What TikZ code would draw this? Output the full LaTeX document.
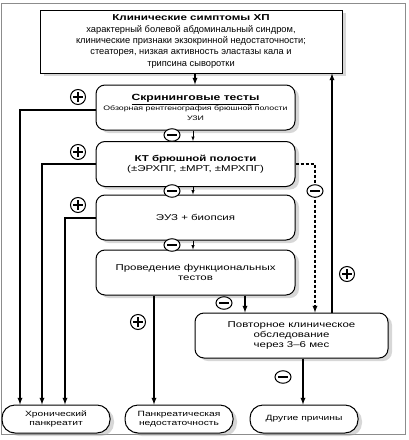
\documentclass[tikz,border=0pt]{standalone}
\usepackage{fontspec}
\setmainfont{Liberation Sans}
\newfontfamily\shir[FakeStretch=1.35,Ligatures=TeX]{Liberation Sans}
\usetikzlibrary{arrows,positioning,shadows}
\usetikzlibrary{shapes.geometric}
\colorlet{ramka}{black!45}
\colorlet{ten}{black!35}

\begin{document}
\begin{tikzpicture}[x=1pt,y=-1pt,>=latex]%
        \useasboundingbox (0,0) rectangle (409,440);%%
        \draw[ramka,line width=.8pt] (1,3) rectangle (405,434);%%
        \tikzset{blok/.style={draw,fill=white,line width=1pt,align=center,inner sep=1pt,
                 drop shadow={shadow xshift=4pt,shadow yshift=-3pt,fill=ten,opacity=.45}},
                 znak/.style={draw,fill=white,line width=1pt,inner sep=0pt},
                 plus/.style={znak,circle,minimum size=15pt,
                   path picture={\draw[line width=1.4pt]
                     (path picture bounding box.center) +(-5pt,0) -- +(5pt,0)
                     (path picture bounding box.center) +(0,-5pt) -- +(0,5pt);}},
                 minus/.style={znak,ellipse,minimum width=16pt,minimum height=12.5pt,
                   path picture={\draw[line width=1.4pt]
                     (path picture bounding box.center) +(-5pt,0) -- +(5pt,0);}},
                 lin/.style={line width=1.3pt,-latex},
                 mal/.style={line width=.5pt,-latex}}
        % top box
        \node[blok,rectangle,minimum width=302pt,minimum height=63pt,
              font=\fontsize{9.3}{11.4}\selectfont] (simp) at (191,41.5)
              {{\shir\fontsize{8.6}{11.4}\selectfont\textbf{Клинические симптомы ХП}}\\
               характерный болевой абдоминальный синдром,\\
               клинические признаки экзокринной недостаточности;\\
               стеаторея, низкая активность эластазы кала и\\ трипсина сыворотки}; %%
        \begin{scope}[rounded corners=9pt]
        \tikzstyle{every node}=[blok,minimum width=199pt,minimum height=45pt,
                   font=\shir\fontsize{8.5}{10}\selectfont] %%
        \node (skr) at (195.5,107.5)
              {{\fontsize{9}{11}\selectfont\textbf{\underline{Скрининговые тесты}}}\\
               {\fontsize{6.5}{8}\selectfont Обзорная рентгенография брюшной полости}\\
               {\fontsize{6.5}{8}\selectfont УЗИ}}; %%
        \node (kt) at (195.5,164)
              {\textbf{КТ брюшной полости}\\ (±ЭРХПГ, ±МРТ, ±МРХПГ)}; %%
        \node (euz) at (195.5,217.5) {ЭУЗ + биопсия}; %%
        \node (func) at (195.5,272.5) {Проведение функциональных\\ тестов}; %%
        \node[minimum width=193pt] (povt) at (291.5,335.5)
              {Повторное клиническое\\ обследование\\ через 3–6 мес}; %%
        \end{scope}
        \begin{scope}[rounded corners=13pt]
        \tikzstyle{every node}=[blok,minimum width=108pt,minimum height=28pt,
                   font=\shir\fontsize{7.6}{9.5}\selectfont] %%
        \node (hp) at (56,419) {Хронический\\ панкреатит}; %%
        \node (pn) at (179,419) {Панкреатическая\\ недостаточность}; %%
        \node (dp) at (304,419) {Другие причины}; %%
        \end{scope}
        % connectors
        \draw[lin] (simp.south -| 195,0) -- (skr.north -| 195,0); %%
        \draw[mal] (skr.south -| 193,0) -- (kt.north -| 193,0); %%
        \draw[mal] (kt.south -| 193,0) -- (euz.north -| 193,0); %%
        \draw[mal] (euz.south -| 193,0) -- (func.north -| 193,0); %%
        \draw[lin] (skr.west |- 0,110) -| (hp.north -| 20,0); %%
        \draw[lin] (kt.west |- 0,164) -| (hp.north -| 42,0); %%
        \draw[lin] (euz.west |- 0,218) -| (hp.north -| 65,0); %%
        \draw[lin] (func.south -| 154,0) -- (pn.north -| 154,0); %%
        \draw[lin] (func.south -| 245,0) -- (povt.north -| 245,0); %%
        \draw[lin,dash pattern=on 3pt off 2pt] (kt.east |- 0,164) -| (povt.north -| 315,0); %%
        \draw[lin] (povt.north -| 332,0) -- (simp.south -| 332,0); %%
        \draw[lin] (povt.south -| 303,0) -- (dp.north -| 303,0); %%
        % signs
        \node[plus] (p1) at (78,97) {}; %%
        \node[plus] (p2) at (78,152) {}; %%
        \node[plus] (p3) at (78,205) {}; %%
        \node[plus] (p4) at (138,322) {}; %%
        \node[plus] (p5) at (347,274) {}; %%
        \node[minus] (m1) at (172,135) {}; %%
        \node[minus] (m2) at (172,191) {}; %%
        \node[minus] (m3) at (172,245) {}; %%
        \node[minus] (m4) at (224,303) {}; %%
        \node[minus] (m5) at (315,191) {}; %%
        \node[minus] (m6) at (283,377) {}; %%
\end{tikzpicture}
\end{document}
